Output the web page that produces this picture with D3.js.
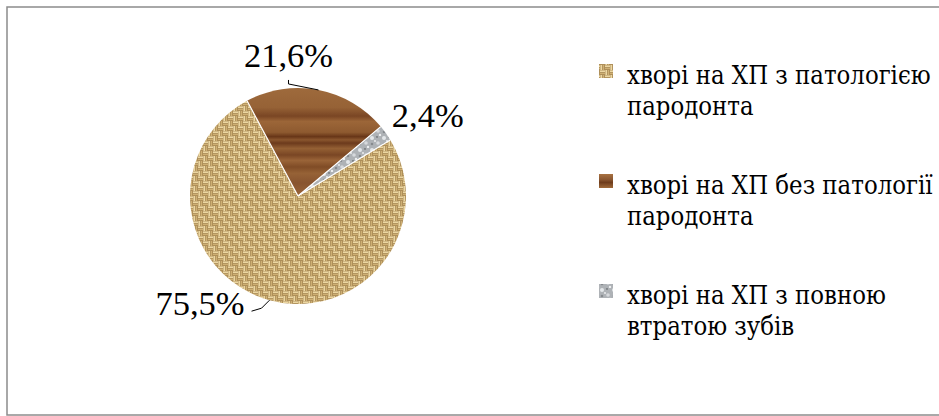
<!DOCTYPE html>
<html><head><meta charset="utf-8">
<script src="https://cdn.jsdelivr.net/npm/d3@7"></script>
<style>
html,body{margin:0;padding:0;background:#fff;overflow:hidden;}
svg{display:block;}
</style></head>
<body><svg id="chart" width="939" height="416"></svg>
<script>
// ---- data ----
const categories = [
  "хворі на ХП з патологією пародонта",
  "хворі на ХП без патології пародонта",
  "хворі на ХП з повною втратою зубів"
];
const legendLines = [
  ["хворі на ХП з патологією", "пародонта"],
  ["хворі на ХП без патології", "пародонта"],
  ["хворі на ХП з повною", "втратою зубів"]
];
const values = [75.5, 21.6, 2.4];
const valueLabels = ["75,5%", "21,6%", "2,4%"];
const patternIds = ["weave", "wood", "marble"];

const svg = d3.select("#chart");
const W = 939, H = 416;

// ---- patterns ----
const defs = svg.append("defs");
// burlap basket weave
const P = 10, q = P/2;
const pw = defs.append("pattern").attr("id","weave").attr("patternUnits","userSpaceOnUse")
  .attr("width",P).attr("height",P);
pw.append("rect").attr("width",P).attr("height",P).attr("fill","#8e6e3e");
const s1 = "#ecd7a2", s2 = "#cfb074";
[[0,0,"h"],[q,0,"v"],[0,q,"v"],[q,q,"h"]].forEach(([x,y,o])=>{
  if(o==="h"){
    pw.append("rect").attr("x",x).attr("y",y+0.3).attr("width",q).attr("height",1.9).attr("fill",s1);
    pw.append("rect").attr("x",x).attr("y",y+2.6).attr("width",q).attr("height",1.9).attr("fill",s2);
  } else {
    pw.append("rect").attr("x",x+0.3).attr("y",y).attr("width",1.9).attr("height",q).attr("fill",s1);
    pw.append("rect").attr("x",x+2.6).attr("y",y).attr("width",1.9).attr("height",q).attr("fill",s2);
  }
});
// wood grain (soft horizontal bands)
const wg = defs.append("linearGradient").attr("id","woodGrad")
  .attr("x1",0).attr("y1",0).attr("x2",0).attr("y2",1);
[[0,"#9e6a3c"],[0.18,"#966236"],[0.26,"#7a4624"],[0.31,"#9c6638"],[0.41,"#8e5a30"],
 [0.45,"#683618"],[0.48,"#8a562e"],[0.51,"#6c3a1c"],[0.56,"#946034"],[0.62,"#7a4624"],
 [0.67,"#9a6438"],[0.73,"#804c26"],[0.79,"#966236"],[0.88,"#885430"],[1,"#9a6438"]]
  .forEach(([o,c])=>wg.append("stop").attr("offset",o).attr("stop-color",c));
const pwood = defs.append("pattern").attr("id","wood").attr("patternUnits","userSpaceOnUse")
  .attr("x",0).attr("y",-108).attr("width",W).attr("height",108);
pwood.append("rect").attr("width",W).attr("height",108).attr("fill","url(#woodGrad)");
const lg = defs.append("linearGradient").attr("id","woodGradSmall")
  .attr("x1",0).attr("y1",0).attr("x2",0).attr("y2",1);
[[0,"#a87242"],[0.4,"#8a5630"],[0.6,"#6e3c1c"],[1,"#a06a3a"]]
  .forEach(([o,c])=>lg.append("stop").attr("offset",o).attr("stop-color",c));
// marble
const pm = defs.append("pattern").attr("id","marble").attr("patternUnits","userSpaceOnUse")
  .attr("width",12).attr("height",12);
pm.append("rect").attr("width",12).attr("height",12).attr("fill","#aeb2b6");
[[2,2,2,"#e4e7ea"],[8,7,1.8,"#d6d9dc"],[7,1,1.1,"#7e8286"],[2,8,1.3,"#868a8e"],[10,11,1.2,"#eef0f2"],[5,5,0.9,"#f2f3f4"]]
  .forEach(([x,y,r,c])=>pm.append("circle").attr("cx",x).attr("cy",y).attr("r",r).attr("fill",c));

// ---- frame ----
svg.append("rect").attr("x",7).attr("y",7).attr("width",W+20).attr("height",408)
  .attr("fill","#fff").attr("stroke","#8c8c8c").attr("stroke-width",1.5);

// ---- pie ----
const cx = 298, cy = 196, R = 108;
const a0 = 58.7 * Math.PI / 180;
const pie = d3.pie().sort(null).startAngle(a0).endAngle(a0 + 2*Math.PI);
const arcs = pie(values);
const arc = d3.arc().innerRadius(0).outerRadius(R);
const g = svg.append("g").attr("transform",`translate(${cx},${cy})`);
g.selectAll("path.slice").data(arcs).join("path").attr("class","slice")
  .attr("d",arc)
  .attr("fill",(d,i)=>`url(#${patternIds[i]})`);
g.selectAll("path.sep").data(arcs).join("path").attr("class","sep")
  .attr("d",d=>d3.line()([[0,0],[R*Math.sin(d.startAngle),-R*Math.cos(d.startAngle)]]))
  .attr("stroke","#fff").attr("stroke-width",1.2);

// ---- labels ----
const edge = d => {
  const m = (d.startAngle + d.endAngle)/2;
  return [R*Math.sin(m), -R*Math.cos(m)];
};
const labelCfg = [
  {dx:-25, dy:15, anchor:"end", leader:true},
  {dx:-30, dy:-23, anchor:"middle", leader:true},
  {dx:6, dy:-6, anchor:"start", leader:false}
];
arcs.forEach((d,i)=>{
  const [ex,ey] = edge(d);
  const c = labelCfg[i];
  g.append("text").attr("x",ex+c.dx).attr("y",ey+c.dy)
    .attr("text-anchor",c.anchor).attr("font-size",34.5).attr("fill","#000")
    .style("font-family",'"Liberation Serif", "Times New Roman", serif')
    .text(valueLabels[i]);
  if(c.leader){
    let pts;
    if(i===0) pts=[[ex,ey],[ex-8,ey+8],[ex-18,ey+11]];
    else pts=[[ex,ey],[ex-30,ey-6],[ex-30,ey-10]];
    g.append("path").attr("d",d3.line()(pts)).attr("fill","none")
      .attr("stroke","#000").attr("stroke-width",1);
  }
});

// ---- legend ----
// DejaVu Serif carries Cyrillic in one face; narrowed horizontally to Times-like proportions
const leg = svg.append("g");
const y0 = 84, step = 110, lh = 31;
categories.forEach((name,i)=>{
  const y = y0 + i*step;
  leg.append("rect").attr("x",599).attr("y",y-20).attr("width",14).attr("height",14)
    .attr("fill", i===1 ? "url(#woodGradSmall)" : `url(#${patternIds[i]})`);
  legendLines[i].forEach((ln,j)=>{
    leg.append("g").attr("transform",`translate(627,${y+j*lh}) scale(0.88,1)`)
      .append("text").attr("x",0).attr("y",0).attr("font-size",26)
      .attr("fill","#000").style("font-family",'"DejaVu Serif"').text(ln);
  });
});
</script></body></html>
